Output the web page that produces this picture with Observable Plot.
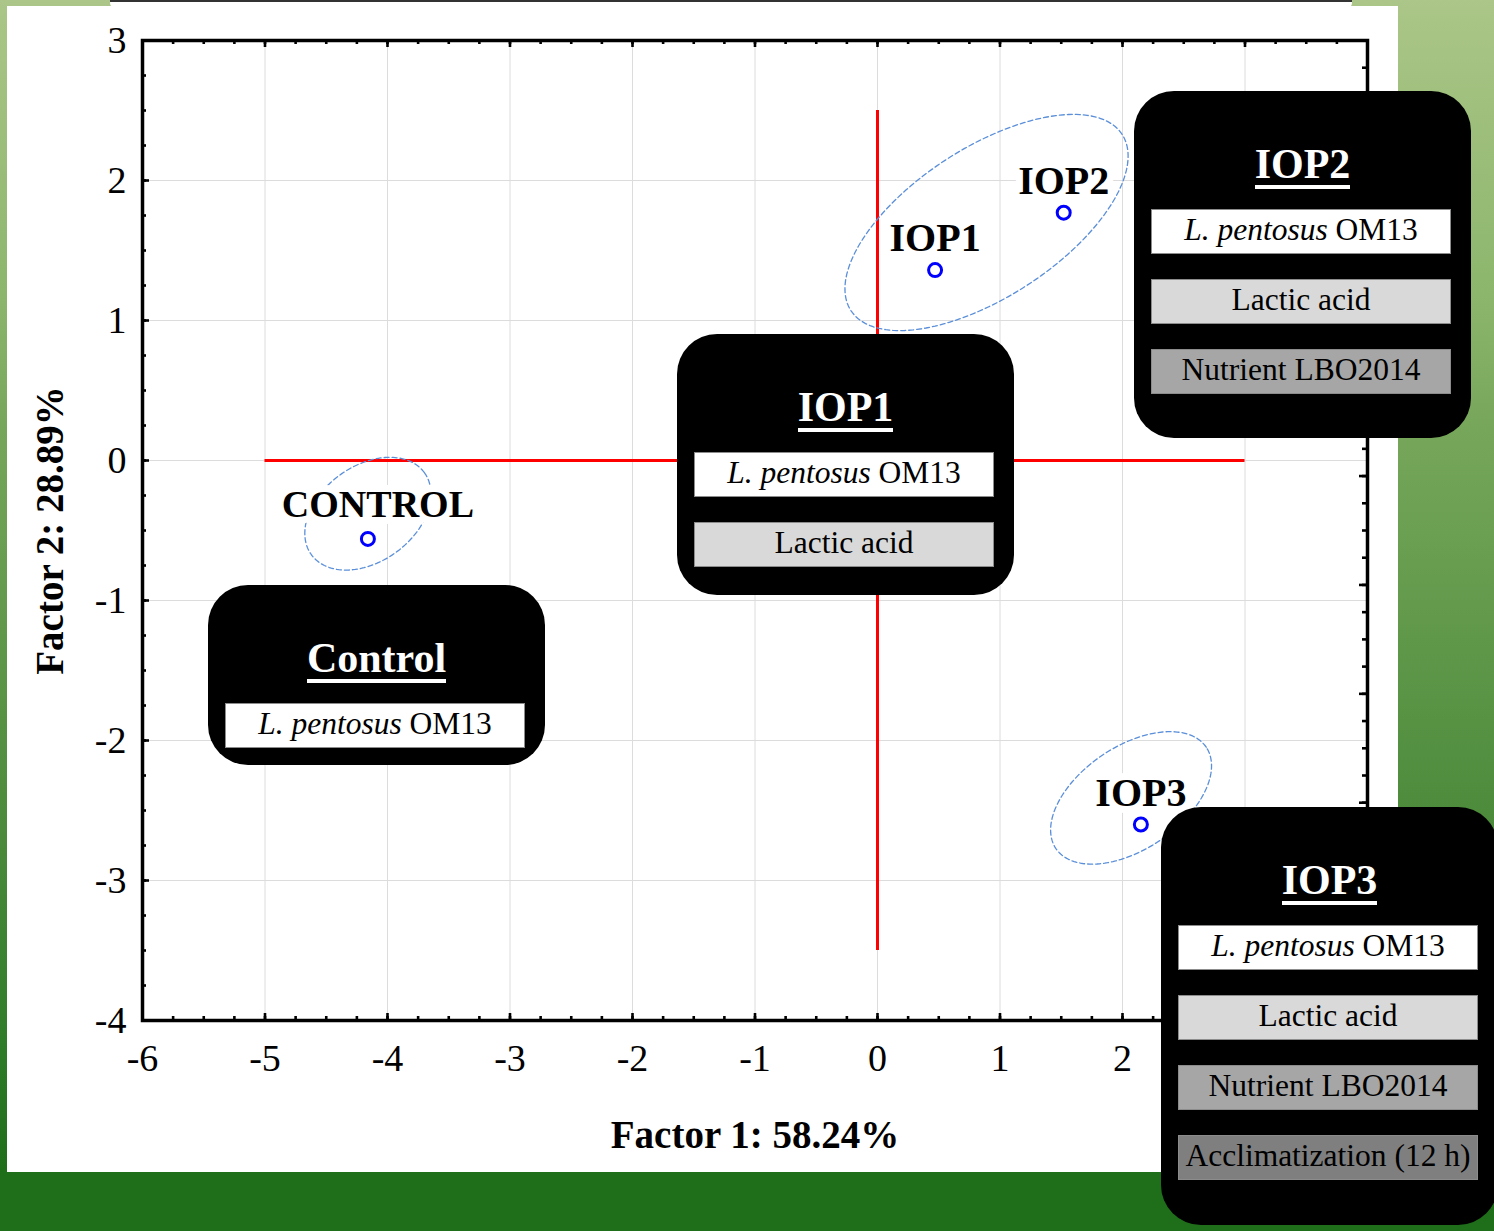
<!DOCTYPE html>
<html>
<head>
<meta charset="utf-8">
<script src="https://cdn.jsdelivr.net/npm/d3@7"></script>
<script src="https://cdn.jsdelivr.net/npm/@observablehq/plot@0.6"></script>
<style>
  body { margin: 0; }
  #page {
    position: relative; width: 1494px; height: 1231px; overflow: hidden;
    background: linear-gradient(to bottom, #abc688 0%, #8cb66c 24%, #76a65a 35%, #4c8b3b 67%, #337f2c 82%, #1f6e1a 95%, #1f6e1a 100%);
    font-family: "Liberation Serif", "Times New Roman", serif;
  }
  #sheet { position: absolute; left: 7px; top: 6px; width: 1391px; height: 1166px; background: #fff; }
  #tab { position: absolute; left: 110px; top: 0; width: 1242px; height: 7px; background: #fff; border-top: 2px solid #333; border-radius: 0 0 6px 6px; }
  #chart { position: absolute; left: 0; top: 0; }
  .card { position: absolute; width: 337px; background: #000; border-radius: 40px; }
  .card .title { position: absolute; top: 54px; left: 0; right: 0; display: flex; justify-content: center; }
  .card .title span {
    font-weight: bold; font-size: 42px; line-height: 0.95; color: #fff;
    border-bottom: 4px solid #fff;
  }
  .card .row {
    position: absolute; left: 17px; width: 300px; height: 45px; box-sizing: border-box;
    border: 1px solid #8c8c8c; display: flex; align-items: center; justify-content: center;
    font-size: 31.5px; color: #000; white-space: nowrap; padding-bottom: 3px;
  }
</style>
</head>
<body>
<div id="page">
  <div id="sheet"></div>
  <div id="tab"></div>
  <div id="chart"></div>
</div>
<script>
// PCA scores of the four fermentation protocols
const samples = ["CONTROL", "IOP1", "IOP2", "IOP3"];
const factor1 = [-4.16, 0.47, 1.52, 2.15];
const factor2 = [-0.56, 1.36, 1.77, -2.60];

// Dashed group envelopes: centre, semi-axes (x-axis units) and tilt (degrees)
const envelopeNames = ["IOP1-IOP2", "CONTROL", "IOP3"];
const envelopeCx = [0.89, -4.16, 2.07];
const envelopeCy = [1.70, -0.38, -2.41];
const envelopeMajor = [1.32, 0.57, 0.74];
const envelopeMinor = [0.61, 0.39, 0.42];
const envelopeTilt = [33, 36, 34];

// Red reference cross through the origin
const crossH = {y: 0, from: -5, to: 3};
const crossV = {x: 0, from: -3.5, to: 2.5};

// Axis ticks and titles
const xTicks = [-6, -5, -4, -3, -2, -1, 0, 1, 2, 3, 4];
const xTickLabels = ["-6", "-5", "-4", "-3", "-2", "-1", "0", "1", "2"];
const yTicks = [3, 2, 1, 0, -1, -2, -3, -4];
const yTickLabels = ["3", "2", "1", "0", "-1", "-2", "-3", "-4"];
const xTitle = "Factor 1: 58.24%";
const yTitle = "Factor 2: 28.89%";

// Treatment cards
const groupNames = ["Control", "IOP1", "IOP2", "IOP3"];
const treatmentSteps = ["L. pentosus OM13", "Lactic acid", "Nutrient LBO2014", "Acclimatization (12 h)"];
const stepsPerGroup = [1, 2, 3, 4];

const W = 1494, H = 1231;
const M = {left: 142, right: 127, top: 40, bottom: 211};
const plotW = W - M.left - M.right;
const plotH = H - M.top - M.bottom;
const xDomain = [-6, 4], yDomain = [-4, 3];
const pxPerX = plotW / (xDomain[1] - xDomain[0]);
const pxPerY = plotH / (yDomain[1] - yDomain[0]);

const points = samples.map((s, i) => ({sample: s, f1: factor1[i], f2: factor2[i]}));

// Sample each envelope as a closed polyline (drawn in screen-proportional units)
const envelopePts = [];
envelopeNames.forEach((g, i) => {
  const a = envelopeMajor[i] * pxPerX, b = envelopeMinor[i] * pxPerX;
  const th = envelopeTilt[i] * Math.PI / 180;
  for (let deg = 0; deg < 360; deg += 2) {
    const t = deg * Math.PI / 180;
    const px = a * Math.cos(t) * Math.cos(th) - b * Math.sin(t) * Math.sin(th);
    const py = a * Math.cos(t) * Math.sin(th) + b * Math.sin(t) * Math.cos(th);
    envelopePts.push({group: g, x: envelopeCx[i] + px / pxPerX, y: envelopeCy[i] + py / pxPerY});
  }
});

// Inward frame ticks: quarter-unit minors on the main scales,
// the right edge carries its own 9-interval scale
const xMinor = d3.range(xDomain[0], xDomain[1] + 1e-9, 0.25);
const yMinor = d3.range(yDomain[0], yDomain[1] + 1e-9, 0.25);
const rMajor = d3.range(0, 10).map(k => yDomain[1] - k * 7 / 9);
const rMinor = d3.range(0, 37).map(k => yDomain[1] - k * 7 / 36);
const tickStyle = {stroke: "#000", strokeWidth: 2.6};
const maj = 7, mnr = 4;

const xLabelled = xTicks.slice(0, xTickLabels.length);

const chart = Plot.plot({
  width: W, height: H,
  marginLeft: M.left, marginRight: M.right, marginTop: M.top, marginBottom: M.bottom,
  x: {domain: xDomain},
  y: {domain: yDomain},
  style: {background: "transparent", fontFamily: "'Liberation Serif', 'Times New Roman', serif", overflow: "visible"},
  marks: [
    Plot.ruleX(xTicks, {stroke: "#dcdcdc", strokeWidth: 1}),
    Plot.ruleY(yTicks, {stroke: "#dcdcdc", strokeWidth: 1}),
    Plot.ruleY([crossH], {y: "y", x1: "from", x2: "to", stroke: "#ff0000", strokeWidth: 3}),
    Plot.ruleX([crossV], {x: "x", y1: "from", y2: "to", stroke: "#ff0000", strokeWidth: 3}),
    Plot.line(envelopePts, {x: "x", y: "y", z: "group", curve: "linear-closed",
      stroke: "#5b8fd9", strokeWidth: 1.3, strokeDasharray: "5,3"}),
    Plot.text(points.filter(d => d.sample === "CONTROL"), {x: "f1", y: "f2", text: "sample",
      dx: 10, dy: -22, lineAnchor: "bottom", fontSize: 38, fontWeight: "bold",
      fill: "#000", stroke: "#fff", strokeWidth: 14, strokeLinejoin: "round"}),
    Plot.text(points.filter(d => d.sample !== "CONTROL"), {x: "f1", y: "f2", text: "sample",
      dy: -19, lineAnchor: "bottom", fontSize: 40, fontWeight: "bold",
      fill: "#000", stroke: "#fff", strokeWidth: 14, strokeLinejoin: "round"}),
    Plot.dot(points, {x: "f1", y: "f2", r: 6.5, stroke: "#0000ff", strokeWidth: 3, fill: "none"}),
    // inward ticks on the four sides of the frame
    Plot.ruleX(xMinor, {...tickStyle, insetTop: plotH - mnr}),
    Plot.ruleX(xTicks, {...tickStyle, insetTop: plotH - maj}),
    Plot.ruleX(xMinor, {...tickStyle, insetBottom: plotH - mnr}),
    Plot.ruleX(xTicks, {...tickStyle, insetBottom: plotH - maj}),
    Plot.ruleY(yMinor, {...tickStyle, insetRight: plotW - mnr}),
    Plot.ruleY(yTicks, {...tickStyle, insetRight: plotW - maj}),
    Plot.ruleY(rMinor, {...tickStyle, insetLeft: plotW - mnr - 1}),
    Plot.ruleY(rMajor, {...tickStyle, insetLeft: plotW - maj - 1}),
    Plot.frame({stroke: "#000", strokeWidth: 3.5}),
    Plot.axisX({ticks: xLabelled, tickSize: 0, tickPadding: 24, fontSize: 38,
      tickFormat: d => xTickLabels[xTicks.indexOf(d)], label: null}),
    Plot.axisY({ticks: yTicks, tickSize: 0, tickPadding: 16, fontSize: 38,
      tickFormat: d => yTickLabels[yTicks.indexOf(d)], label: null}),
    Plot.text([xTitle], {frameAnchor: "bottom", dy: 127, lineAnchor: "bottom", textAnchor: "middle",
      fontSize: 39, fontWeight: "bold", fill: "#000"}),
    Plot.text([yTitle], {frameAnchor: "left", dx: -80, rotate: -90, lineAnchor: "bottom", textAnchor: "middle",
      fontSize: 39, fontWeight: "bold", fill: "#000"})
  ]
});
document.getElementById("chart").appendChild(chart);

// Cards describing the cumulative treatment steps of each protocol
const cardLayout = [
  {left: 208, top: 585, height: 180},
  {left: 677, top: 334, height: 261},
  {left: 1134, top: 91, height: 347},
  {left: 1161, top: 807, height: 418}
];
const rowFills = ["#ffffff", "#d9d9d9", "#a6a6a6", "#7f7f7f"];

function stepLabel(s) {
  const m = s.match(/^(L\. pentosus)(.*)$/);
  if (!m) return document.createTextNode(s);
  const frag = document.createDocumentFragment();
  const it = document.createElement("i");
  it.textContent = m[1];
  frag.appendChild(it);
  frag.appendChild(document.createTextNode(m[2].replace(/^ /, "\u00a0")));
  return frag;
}

const page = document.getElementById("page");
groupNames.forEach((name, gi) => {
  const lay = cardLayout[gi];
  const card = document.createElement("div");
  card.className = "card";
  card.style.left = lay.left + "px";
  card.style.top = lay.top + "px";
  card.style.height = lay.height + "px";
  const title = document.createElement("div");
  title.className = "title";
  const span = document.createElement("span");
  span.textContent = name;
  title.appendChild(span);
  card.appendChild(title);
  for (let k = 0; k < stepsPerGroup[gi]; k++) {
    const row = document.createElement("div");
    row.className = "row";
    row.style.top = (118 + 70 * k) + "px";
    row.style.background = rowFills[k];
    row.appendChild(stepLabel(treatmentSteps[k]));
    card.appendChild(row);
  }
  page.appendChild(card);
});
</script>
</body>
</html>
